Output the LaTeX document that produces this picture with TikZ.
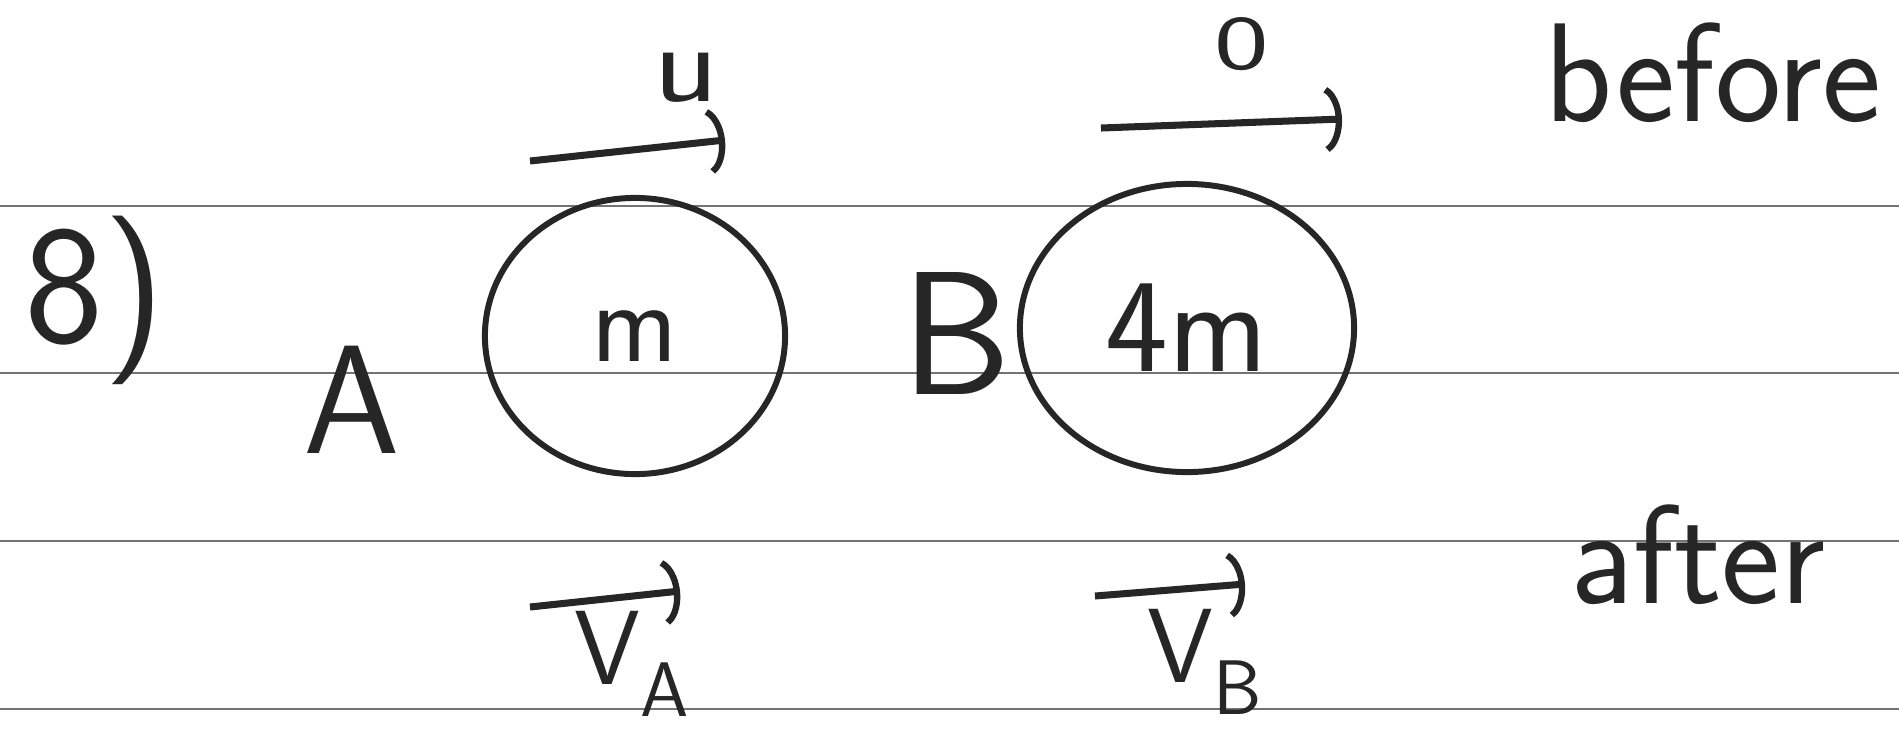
\documentclass[tikz,border=0pt]{standalone}
\usetikzlibrary{arrows.meta,shapes.geometric,positioning}
\tikzset{
  rule/.style={line width=0.7pt,black!55},
  ball/.style={ellipse,draw=black!85,line width=1.7pt,inner sep=0pt,text=black!85},
  pen/.style={font=\sffamily\fontsize{40}{44}\selectfont,text=black!85,inner sep=0pt},
  vel/.style={-{Arc Barb[arc=140,length=2.2mm,width=7mm,line width=1.8pt]},line width=2pt,black!85},
}
\newcommand{\subtxt}[1]{\raisebox{-0.3em}{\fontsize{22}{24}\selectfont #1}}
\begin{document}
\begin{tikzpicture}[x=0.01cm,y=-0.01cm]
  \useasboundingbox (0,0) rectangle (1899,732);
  % ruled paper
  \foreach \y in {206,373,541,709}
    {\draw[rule] (0,\y) -- (1899,\y);}
  % the two balls
  \node[ball,minimum width=3.0cm,minimum height=2.76cm,font=\sffamily\fontsize{33}{36}\selectfont](ballA) at (635,336){m};
  \node[ball,minimum width=3.34cm,minimum height=2.88cm,font=\sffamily\fontsize{38}{40}\selectfont](ballB) at (1187,328){4m};
  \node[pen,font=\sffamily\fontsize{48}{52}\selectfont](num) at (95,300){8)};
  \node[pen,font=\sffamily\fontsize{44}{48}\selectfont](labA) at (352,400){A};
  \node[pen,font=\sffamily\fontsize{50}{54}\selectfont](labB) at (957,333){B};
  \node[pen,anchor=base](before) at (1713,121){before};
  \node[pen,anchor=base](after) at (1698,603){after};
  % velocities
  \coordinate (u1) at (530,161); \coordinate (u2) at (725,140);
  \coordinate (o1) at (1101,128); \coordinate (o2) at (1342,119);
  \coordinate (a1) at (530,607); \coordinate (a2) at (680,591);
  \coordinate (b1) at (1095,596); \coordinate (b2) at (1245,584);
  \draw[vel] (u1) -- (u2);
  \draw[vel] (o1) -- (o2);
  \draw[vel] (a1) -- (a2);
  \draw[vel] (b1) -- (b2);
  \node[pen,font=\sffamily\fontsize{32}{34}\selectfont,xscale=1.2](u) at (686,78){u};
  \node[pen,font=\sffamily\fontsize{22}{24}\selectfont,xscale=1.5](o) at (1242,44){0};
  \node[pen,font=\sffamily\fontsize{30}{32}\selectfont](vA) at (632,664){V\subtxt{A}};
  \node[pen,font=\sffamily\fontsize{30}{32}\selectfont](vB) at (1205,662){V\subtxt{B}};
\end{tikzpicture}
\end{document}
